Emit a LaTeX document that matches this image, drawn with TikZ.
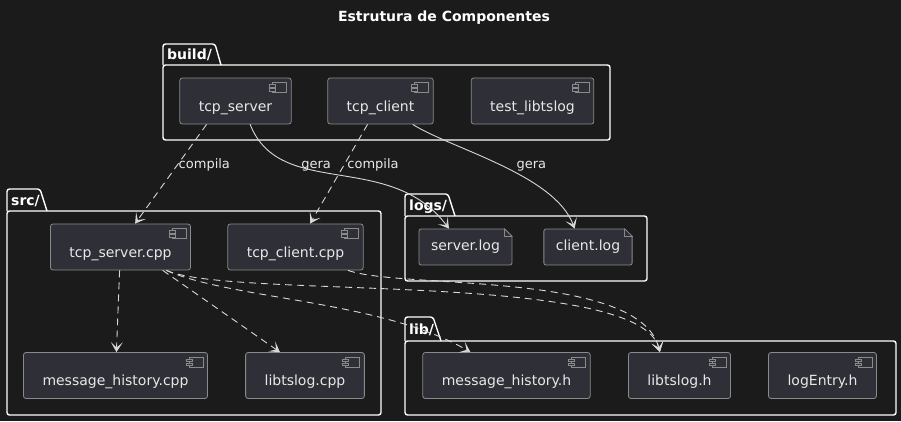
\documentclass[tikz,border=0pt]{standalone}
\usepackage{fontspec}
\setmainfont{DejaVu Sans}
\usetikzlibrary{arrows.meta}
\definecolor{bgdark}{HTML}{1B1B1B}
\definecolor{boxfill}{HTML}{2F2F37}
\definecolor{boxline}{HTML}{8A8A8A}
\definecolor{boxtext}{HTML}{E8E8E8}
\definecolor{edgeline}{HTML}{D8D8D8}
\tikzset{
  comp/.style = {draw = boxline, fill = boxfill, text = boxtext, rounded corners = 2.5pt,
    line width = 0.8pt, minimum height = 46pt, inner xsep = 19pt, inner ysep = 3pt,
    text height = 30pt, text depth = 10pt, font = \fontsize{14}{16}\selectfont},
  notebox/.style = {draw = boxline, fill = boxfill, text = boxtext, rounded corners = 2pt,
    line width = 0.8pt, minimum height = 36pt, inner xsep = 12pt, font = \fontsize{14}{16}\selectfont},
  icon/.style = {draw = boxline, fill = boxfill, line width = 0.6pt},
  pkg/.style = {draw = white, line width = 1.4pt, rounded corners = 2.5pt},
  pkglabel/.style = {text = white, inner sep = 0pt, font = \fontsize{14}{16}\selectfont\bfseries},
  lbl/.style = {text = boxtext, inner sep = 0pt, font = \fontsize{13}{15}\selectfont},
  dep/.style = {draw = edgeline, line width = 0.9pt, dash pattern = on 7pt off 5pt,
    -{Stealth[length = 10pt, width = 12pt, inset = 5.5pt]}},
  gen/.style = {draw = edgeline, line width = 0.9pt,
    -{Stealth[length = 10pt, width = 12pt, inset = 5.5pt]}}
}
% small component symbol in the upper right corner
\newcommand\compicon[1]{%
  \draw[icon] ([xshift=-19pt,yshift=-5pt]#1.north east) rectangle ([xshift=-5pt,yshift=-15pt]#1.north east);
  \draw[icon] ([xshift=-22pt,yshift=-7pt]#1.north east) rectangle ([xshift=-16pt,yshift=-9.5pt]#1.north east);
  \draw[icon] ([xshift=-22pt,yshift=-11pt]#1.north east) rectangle ([xshift=-16pt,yshift=-13.5pt]#1.north east);
}
% folded corner of a file
\newcommand\notefold[1]{%
  \fill[bgdark] ([xshift=-8pt,yshift=1pt]#1.north east) -- ([xshift=1pt,yshift=1pt]#1.north east) -- ([xshift=1pt,yshift=-8pt]#1.north east) -- cycle;
  \draw[boxline, line width = 0.8pt] ([xshift=-8pt]#1.north east) -- ([yshift=-8pt]#1.north east);
  \draw[boxline, line width = 0.8pt] ([xshift=-8pt]#1.north east) |- ([yshift=-8pt]#1.north east);
}
\begin{document}
\begin{tikzpicture}[x = 1pt, y = -1pt]
    \fill[bgdark] (0,0) rectangle (901,421);
    \useasboundingbox (0,0) rectangle (901,421);
    \node[text = white, font = \fontsize{14}{16}\selectfont\bfseries] (title) at (444,18) {Estrutura de Componentes};
    % packages
    \draw[pkg] (163,65) rectangle (610,140);
    \draw[pkg] (163,65) -- (163,44) -- (215,44) -- (221,65);
    \node[pkglabel, anchor = base west] (buildlbl) at (167,59) {build/};
    \draw[pkg] (7,211) rectangle (381,415);
    \draw[pkg] (7,211) -- (7,189) -- (40,189) -- (47,211);
    \node[pkglabel, anchor = base west] (srclbl) at (11,205) {src/};
    \draw[pkg] (405,216) rectangle (647,281);
    \draw[pkg] (405,216) -- (405,194) -- (448,194) -- (455,216);
    \node[pkglabel, anchor = base west] (logslbl) at (409,210) {logs/};
    \draw[pkg] (405,341) rectangle (896,415);
    \draw[pkg] (405,341) -- (405,317) -- (433,317) -- (441,341);
    \node[pkglabel, anchor = base west] (liblbl) at (409,334) {lib/};
    \begin{scope}[every node/.style = {comp}]
    \node (srv) at (235.5,101) {tcp\_server};
    \node (cli) at (380.5,101) {tcp\_client};
    \node (tst) at (532.5,101) {test\_libtslog};
    \node (srvcpp) at (120.5,247) {tcp\_server.cpp};
    \node (clicpp) at (295.5,247) {tcp\_client.cpp};
    \node (mhcpp) at (115.5,375.5) {message\_history.cpp};
    \node (ltcpp) at (305,375.5) {libtslog.cpp};
    \node (mhh) at (506.5,375.5) {message\_history.h};
    \node (lth) at (679.5,375.5) {libtslog.h};
    \node (leh) at (822.5,375.5) {logEntry.h};
    \end{scope}
    \foreach \c in {srv, cli, tst, srvcpp, clicpp, mhcpp, ltcpp, mhh, lth, leh}
      {\compicon{\c}}
    \begin{scope}[every node/.style = {notebox}]
    \node (slog) at (465.5,247) {server.log};
    \node (clog) at (588,247) {client.log};
    \end{scope}
    \notefold{slog}
    \notefold{clog}
    % build
    \draw[dep] (srv.219) -- node[lbl, pos = 0.41, anchor = west, xshift = 1pt] {compila} (srvcpp.58);
    \draw[dep] (cli.241) -- node[lbl, pos = 0.41, anchor = west, xshift = 3pt] {compila} (clicpp.58);
    \draw[gen] (srv.-58) .. controls +(30,76) and +(-59,-79) .. node[lbl, pos = 0.4, above] {gera} (slog.132);
    \draw[gen] (cli.-36) .. controls +(38,24) and +(-20,-54) .. node[lbl, pos = 0.58, anchor = south west, yshift = 2pt] {gera} (clog.126);
    % includes
    \draw[dep] (srvcpp) -- (mhcpp);
    \draw[dep] (srvcpp.-29) -- (ltcpp.137);
    \draw[dep] (srvcpp.-27) .. controls +(65,29) and +(-90,-52) .. (mhh.147);
    \draw[dep] (srvcpp.-27) .. controls +(65,29) and +(-20,-82) .. (lth.130);
    \draw[dep] (clicpp.-24) .. controls +(53,19) and +(-20,-82) .. (lth.130);
\end{tikzpicture}
\end{document}
